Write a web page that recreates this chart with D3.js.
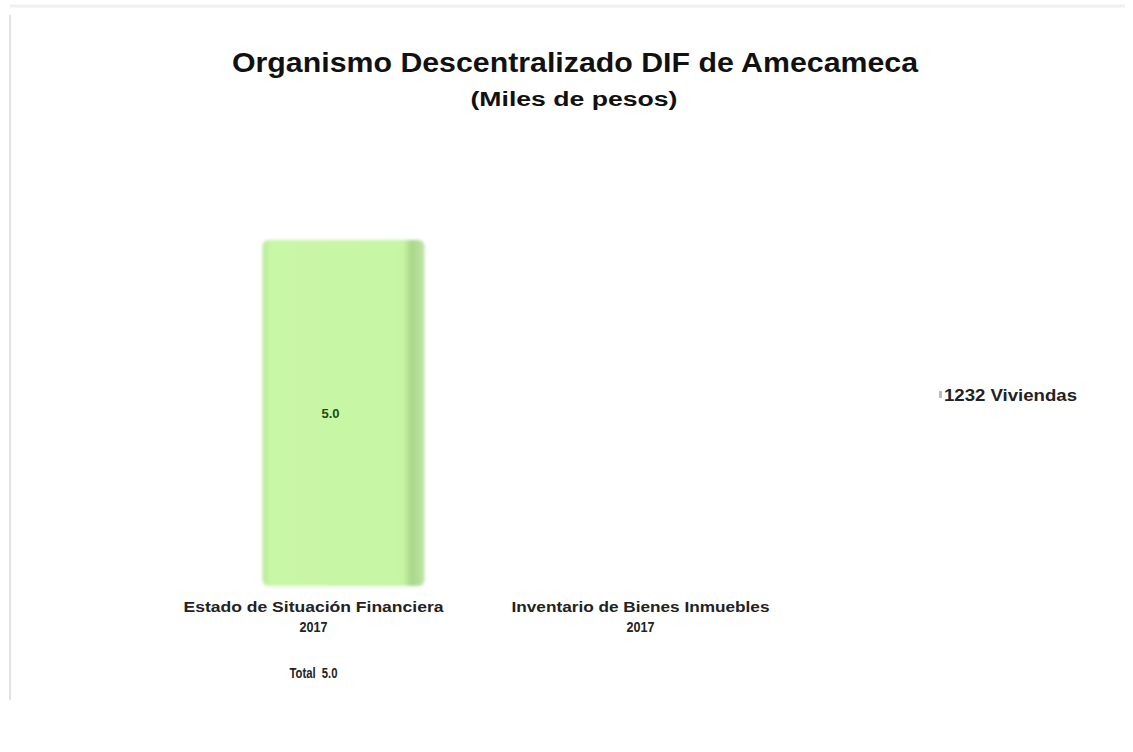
<!DOCTYPE html>
<html><head><meta charset="utf-8">
<script src="https://cdn.jsdelivr.net/npm/d3@7"></script>
<style>body{margin:0;background:#fff;font-family:Arial,"Liberation Sans",sans-serif}</style>
</head><body><svg id="c" width="1133" height="752"></svg>
<script>
const categories = ["Estado de Situación Financiera|2017", "Inventario de Bienes Inmuebles|2017"];
const values = [5.0, null];
const valueLabels = ["5.0", ""];
const totalLabel = "Total  5.0";
const sideLabel = "1232 Viviendas";
const title = "Organismo Descentralizado DIF de Amecameca";
const subtitle = "(Miles de pesos)";

const svg = d3.select("#c");
const defs = svg.append("defs");
const g1 = defs.append("linearGradient").attr("id","bar").attr("x1","0").attr("x2","1");
g1.append("stop").attr("offset","0").attr("stop-color","#b8e89c");
g1.append("stop").attr("offset","0.05").attr("stop-color","#c8f7a6");
g1.append("stop").attr("offset","0.87").attr("stop-color","#c6f5a4");
g1.append("stop").attr("offset","0.92").attr("stop-color","#a9d68a");
g1.append("stop").attr("offset","1").attr("stop-color","#bfe6a5");
const flt = defs.append("filter").attr("id","blur");
flt.append("feGaussianBlur").attr("stdDeviation","1.5");

// frame
svg.append("line").attr("x1",10).attr("x2",10).attr("y1",15).attr("y2",700).attr("stroke","#d8d8d8").attr("stroke-width",1.5);
svg.append("line").attr("x1",10).attr("x2",1125).attr("y1",6).attr("y2",6).attr("stroke","#f0f0f0").attr("stroke-width",3);

svg.append("text").attr("x",575).attr("y",72).attr("text-anchor","middle")
  .attr("font-size",27).attr("font-weight","bold").attr("fill","#111")
  .attr("textLength",686).attr("lengthAdjust","spacingAndGlyphs").text(title);
svg.append("text").attr("x",574).attr("y",106).attr("text-anchor","middle")
  .attr("font-size",20).attr("font-weight","bold").attr("fill","#111")
  .attr("textLength",207).attr("lengthAdjust","spacingAndGlyphs").text(subtitle);

const x = d3.scaleBand().domain(categories).range([150,804]);
const y = d3.scaleLinear().domain([0,5]).range([586,240]);
const bw = 162;

const bars = svg.append("g");
categories.forEach((c,i)=>{
  if(values[i]==null) return;
  const cx = x(c)+x.bandwidth()/2;
  const bx = cx - 51;
  bars.append("rect").attr("x",bx).attr("y",y(values[i])).attr("width",bw)
    .attr("height",y(0)-y(values[i])).attr("rx",6)
    .attr("fill","url(#bar)").attr("filter","url(#blur)");
  bars.append("text").attr("x",bx+bw*0.42).attr("y",(y(values[i])+y(0))/2+5)
    .attr("text-anchor","middle").attr("font-size",13).attr("font-weight","bold")
    .attr("fill","#1f4a10").text(valueLabels[i]);
});

const lineLen = [[260,28],[258,28]];
const axis = d3.axisBottom(x).tickSize(0).tickFormat("");
const ag = svg.append("g").attr("transform","translate(0,600)").call(axis);
ag.select(".domain").remove();
ag.selectAll(".tick").each(function(d,i){
  const t = d3.select(this).append("text").attr("text-anchor","middle")
    .attr("font-size",15).attr("font-weight","bold").attr("fill","#222");
  d.split("|").forEach((s,k)=>t.append("tspan").attr("x",0).attr("y",12+k*20)
    .attr("textLength",lineLen[i][k]).attr("lengthAdjust","spacingAndGlyphs").text(s));
});

svg.append("text").attr("x",x(categories[0])+x.bandwidth()/2).attr("y",678).attr("text-anchor","middle")
  .attr("font-size",15).attr("font-weight","bold").attr("fill","#222").attr("xml:space","preserve")
  .attr("textLength",48).attr("lengthAdjust","spacingAndGlyphs").text(totalLabel);

svg.append("rect").attr("x",939).attr("y",391).attr("width",3).attr("height",7).attr("fill","#bbb");
svg.append("text").attr("x",944).attr("y",401).attr("font-size",16).attr("font-weight","bold")
  .attr("fill","#222").attr("textLength",133).attr("lengthAdjust","spacingAndGlyphs").text(sideLabel);
</script></body></html>
